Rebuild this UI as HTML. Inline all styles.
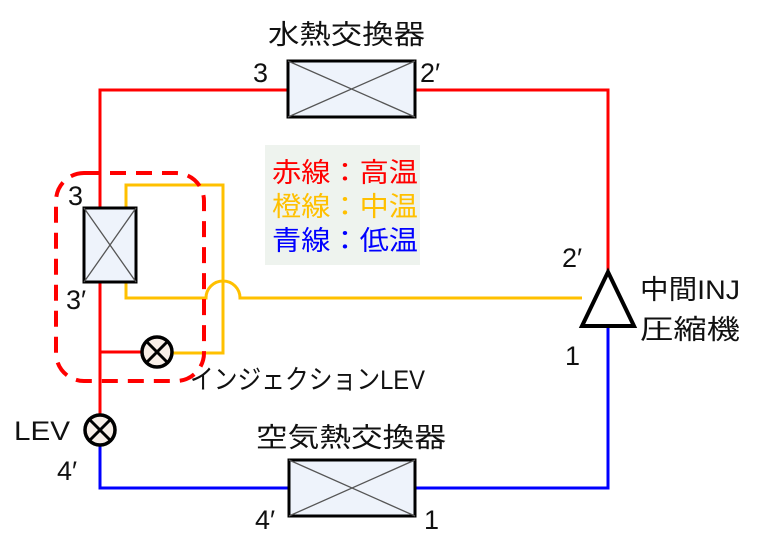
<!DOCTYPE html>
<html><head><meta charset="utf-8"><style>
body{margin:0;background:#fff}
text{font-family:"Liberation Sans","Noto Sans CJK JP",sans-serif;font-size:27px;fill:#111}
</style></head><body>
<svg width="777" height="552" viewBox="0 0 777 552" xmlns="http://www.w3.org/2000/svg">
<rect x="265" y="145" width="155" height="120" fill="#eef3ee"/>
<path d="M100 417 V90 H608 V272" fill="none" stroke="#f00" stroke-width="3"/>
<path d="M100 352 H142" stroke="#f00" stroke-width="3"/>
<path d="M608 326 V488 H100 V445" fill="none" stroke="#00f" stroke-width="3"/>
<path d="M126 282 V185 H223 V353 H172" fill="none" stroke="#ffc000" stroke-width="3"/>
<path d="M126 280 V298 H206 A17 17 0 0 1 240 298 H582" fill="none" stroke="#ffc000" stroke-width="3"/>
<rect x="56" y="173" width="148" height="208" rx="28" fill="none" stroke="#f00" stroke-width="4" stroke-dasharray="16,10"/>
<g stroke="#000" stroke-width="3" fill="#eef3fb">
<rect x="288" y="61" width="127" height="56"/>
<rect x="289" y="460" width="126" height="56"/>
<rect x="84" y="208" width="52" height="74"/>
</g>
<g stroke="#555" stroke-width="1.3">
<path d="M288 61 L415 117 M415 61 L288 117"/>
<path d="M289 460 L415 516 M415 460 L289 516"/>
<path d="M84 208 L136 282 M136 208 L84 282"/>
</g>
<g stroke="#000" stroke-width="3.5" fill="#f8efe8">
<circle cx="157" cy="352" r="15"/>
<circle cx="100" cy="430" r="15"/>
</g>
<g stroke="#000" stroke-width="3">
<path d="M146.5 341.5 L167.5 362.5 M167.5 341.5 L146.5 362.5"/>
<path d="M89.5 419.5 L110.5 440.5 M110.5 419.5 L89.5 440.5"/>
</g>
<polygon points="608,272 582,326 634,326" fill="#fff" stroke="#000" stroke-width="4"/>
<text x="268" y="44" textLength="157" lengthAdjust="spacingAndGlyphs">水熱交換器</text>
<text x="253" y="82">3</text>
<text x="420" y="82">2′</text>
<text x="68" y="205">3</text>
<text x="66" y="309">3′</text>
<text x="562" y="267">2′</text>
<text x="565" y="365">1</text>
<text x="640" y="299" textLength="100" lengthAdjust="spacingAndGlyphs">中間INJ</text>
<text x="640" y="339" textLength="100" lengthAdjust="spacingAndGlyphs">圧縮機</text>
<text x="190" y="389" font-size="25" textLength="235" lengthAdjust="spacingAndGlyphs">インジェクションLEV</text>
<text x="14" y="440" textLength="56" lengthAdjust="spacingAndGlyphs">LEV</text>
<text x="57" y="480">4′</text>
<text x="256" y="447" textLength="190" lengthAdjust="spacingAndGlyphs">空気熱交換器</text>
<text x="255" y="529">4′</text>
<text x="424" y="529">1</text>
<text x="272" y="182" style="fill:#f00" textLength="146" lengthAdjust="spacingAndGlyphs">赤線：高温</text>
<text x="272" y="216" style="fill:#ffc000" textLength="146" lengthAdjust="spacingAndGlyphs">橙線：中温</text>
<text x="272" y="250" style="fill:#00f" textLength="146" lengthAdjust="spacingAndGlyphs">青線：低温</text>
</svg>
</body></html>
